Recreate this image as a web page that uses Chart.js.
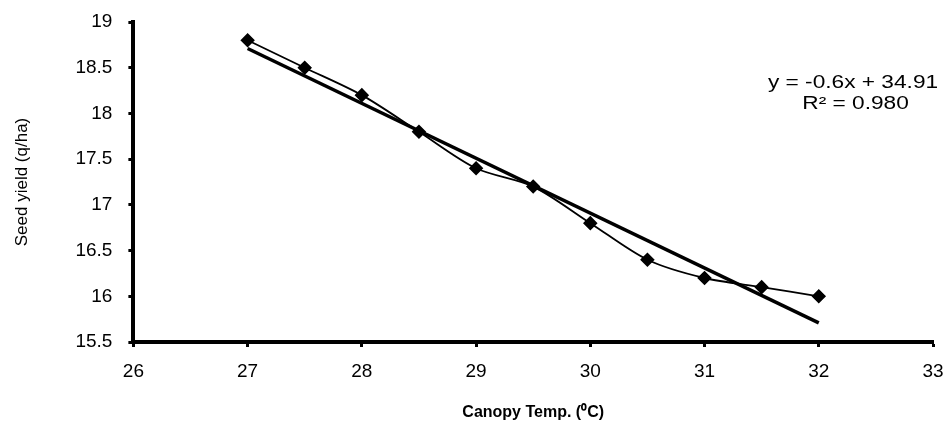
<!DOCTYPE html>
<html><head><meta charset="utf-8">
<script src="https://cdn.jsdelivr.net/npm/chart.js@4/dist/chart.umd.min.js"></script>
<style>html,body{margin:0;padding:0;background:#fff}#wrap{width:946px;height:425px}</style>
</head><body><div id="wrap"><canvas id="c" width="946" height="425"></canvas></div>
<script>
const temps = [27, 27.5, 28, 28.5, 29, 29.5, 30, 30.5, 31, 31.5, 32];
const yields = [18.8, 18.5, 18.2, 17.8, 17.4, 17.2, 16.8, 16.4, 16.2, 16.1, 16.0];
const trendSlope = -0.6;
const trendIntercept = 34.91;
const trendX = [27, 32];
const eqLabels = ["y = -0.6x + 34.91", "R\u00B2 = 0.980"];
const xTicks = [26, 27, 28, 29, 30, 31, 32, 33];
const yTicks = [15.5, 16, 16.5, 17, 17.5, 18, 18.5, 19];

const FONT = "'Liberation Sans', Arial, sans-serif";

const eqPlugin = {
  id: 'eq',
  afterDraw(chart) {
    const ctx = chart.ctx;
    ctx.save();
    ctx.fillStyle = '#000';
    ctx.font = '18px ' + FONT;
    ctx.textAlign = 'center';
    ctx.textBaseline = 'middle';
    ctx.translate(853, 0);
    ctx.scale(1.26, 1);
    ctx.fillText(eqLabels[0], 0, 83);
    ctx.fillText(eqLabels[1], 2, 104);
    ctx.restore();
  }
};

new Chart(document.getElementById('c'), {
  type: 'scatter',
  data: {
    datasets: [
      {
        data: temps.map((t, i) => ({x: t, y: yields[i]})),
        showLine: true,
        borderColor: '#000',
        backgroundColor: '#000',
        borderWidth: 1.8,
        pointStyle: 'rectRot',
        pointRadius: 6,
        pointHoverRadius: 6,
        tension: 0.3
      },
      {
        data: trendX.map(x => ({x: x, y: trendSlope * x + trendIntercept})),
        showLine: true,
        borderColor: '#000',
        borderWidth: 3.5,
        pointRadius: 0,
        tension: 0
      }
    ]
  },
  options: {
    responsive: false,
    animation: false,
    plugins: { legend: {display: false}, tooltip: {enabled: false} },
    layout: { padding: {left: 12, right: 0, top: 0, bottom: 3} },
    scales: {
      x: {
        type: 'linear', min: 26, max: 33,
        afterBuildTicks(s) { s.ticks = xTicks.map(v => ({value: v})); },
        afterFit(s) { s.paddingRight = 13; },
        border: {display: true, color: '#000', width: 4},
        grid: {drawOnChartArea: false, drawTicks: true, tickLength: 5, tickWidth: 3, tickColor: '#000'},
        ticks: {color: '#000', font: {family: FONT, size: 19}, padding: 13, callback: v => String(v)},
        title: {display: true, text: 'Canopy Temp. (\u2070C)', color: '#000', font: {family: FONT, size: 16, weight: 'bold'}, padding: {top: 7, bottom: 0}}
      },
      y: {
        type: 'linear', min: 15.5, max: 19,
        afterBuildTicks(s) { s.ticks = yTicks.map(v => ({value: v})); },
        afterFit(s) { s.paddingTop = 22; },
        border: {display: true, color: '#000', width: 4},
        grid: {drawOnChartArea: false, drawTicks: true, tickLength: 5, tickWidth: 3, tickColor: '#000'},
        ticks: {color: '#000', font: {family: FONT, size: 19}, padding: 16, callback: v => String(v)},
        title: {display: true, text: 'Seed yield (q/ha)', color: '#000', font: {family: FONT, size: 17}, padding: {top: 0, bottom: 27}}
      }
    }
  },
  plugins: [eqPlugin]
});
</script></body></html>
